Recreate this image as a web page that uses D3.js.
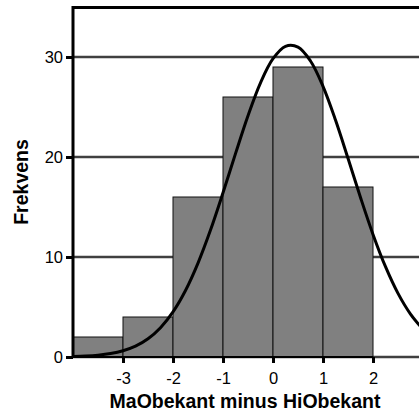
<!DOCTYPE html>
<html lang="en">
<head>
<meta charset="UTF-8">
<title>Frekvens</title>
<style>
  body { margin: 0; background: #fff; }
  svg { display: block; font-family: "Liberation Sans", Arial, sans-serif; }
</style>
</head>
<body>
<div id="chart"></div>
<script src="https://cdn.jsdelivr.net/npm/d3@7"></script>
<script>
// histogram bins (lower edge, upper edge) and counts
const binStarts = [-4, -3, -2, -1, 0, 1];
const binEnds = [-3, -2, -1, 0, 1, 2];
const counts = [2, 4, 16, 26, 29, 17];

// fitted normal curve
const curveX = [-4, -3.75, -3.5, -3.25, -3, -2.75, -2.5, -2.25, -2, -1.75, -1.5, -1.25, -1, -0.75, -0.5, -0.25,
                0, 0.25, 0.5, 0.75, 1, 1.25, 1.5, 1.75, 2, 2.25, 2.5, 2.75, 3];
const curveY = [0.04, 0.09, 0.18, 0.34, 0.62, 1.08, 1.82, 2.93, 4.51, 6.65, 9.39, 12.69, 16.42, 20.34, 24.13, 27.42,
                29.83, 31.07, 30.99, 29.6, 27.07, 23.7, 19.87, 15.95, 12.26, 9.03, 6.36, 4.29, 2.77];

const xTicks = [-3, -2, -1, 0, 1, 2];
const yTicks = [0, 10, 20, 30];

const W = 419, H = 414;
const plotLeft = 73, plotTop = 7.5, plotBottom = 357;

const svg = d3.select("#chart").append("svg")
    .attr("width", W).attr("height", H);

const x = d3.scaleLinear().domain([-4, 3]).range([plotLeft, plotLeft + 350]);
const y = d3.scaleLinear().domain([0, 35]).range([plotBottom, plotBottom - 350]);

svg.append("defs").append("clipPath").attr("id", "plot")
    .append("rect").attr("x", plotLeft).attr("y", 0).attr("width", W - plotLeft).attr("height", plotBottom + 2);

// gridlines
svg.selectAll(".grid").data(yTicks).enter().append("line")
    .attr("class", "grid")
    .attr("x1", plotLeft).attr("x2", W)
    .attr("y1", d => y(d)).attr("y2", d => y(d))
    .attr("stroke", "#404040").attr("stroke-width", 2.5);

// bars
svg.selectAll(".bar").data(counts).enter().append("rect")
    .attr("class", "bar")
    .attr("x", (d, i) => x(binStarts[i]))
    .attr("width", (d, i) => x(binEnds[i]) - x(binStarts[i]))
    .attr("y", d => y(d))
    .attr("height", d => y(0) - y(d))
    .attr("fill", "#808080")
    .attr("stroke", "#111").attr("stroke-width", 1);

// normal curve
const line = d3.line()
    .x((d, i) => x(curveX[i]))
    .y(d => y(d))
    .curve(d3.curveCatmullRom);
svg.append("path")
    .datum(curveY)
    .attr("d", line)
    .attr("clip-path", "url(#plot)")
    .attr("fill", "none")
    .attr("stroke", "#000")
    .attr("stroke-width", 3);

// frame: left axis and top border
svg.append("line").attr("x1", plotLeft).attr("x2", plotLeft).attr("y1", plotTop - 1.5).attr("y2", plotBottom + 1)
    .attr("stroke", "#000").attr("stroke-width", 3);
svg.append("line").attr("x1", plotLeft).attr("x2", W).attr("y1", plotTop).attr("y2", plotTop)
    .attr("stroke", "#000").attr("stroke-width", 3);
svg.append("line").attr("x1", plotLeft).attr("x2", x(2)).attr("y1", plotBottom).attr("y2", plotBottom)
    .attr("stroke", "#000").attr("stroke-width", 2);

// plain hyphen minus, like the original
const fmt = d => String(d);

// y axis ticks
const yAxis = svg.append("g").attr("transform", `translate(${plotLeft},0)`)
    .call(d3.axisLeft(y).tickValues(yTicks).tickSize(7).tickPadding(3).tickFormat(fmt));
yAxis.select(".domain").remove();
yAxis.selectAll(".tick line").attr("stroke", "#000").attr("stroke-width", 3);
yAxis.selectAll(".tick text").attr("font-size", 16.5).attr("fill", "#000")
    .attr("font-family", "'Liberation Sans', Arial, sans-serif");

// x axis ticks
const xAxis = svg.append("g").attr("transform", `translate(0,${plotBottom})`)
    .call(d3.axisBottom(x).tickValues(xTicks).tickSize(6).tickPadding(9).tickFormat(fmt));
xAxis.select(".domain").remove();
xAxis.selectAll(".tick line").attr("stroke", "#000").attr("stroke-width", 3);
xAxis.selectAll(".tick text").attr("font-size", 16.5).attr("fill", "#000")
    .attr("font-family", "'Liberation Sans', Arial, sans-serif");

// axis titles
svg.append("text")
    .attr("x", 245).attr("y", 408)
    .attr("text-anchor", "middle")
    .attr("font-size", 19.5).attr("font-weight", "bold")
    .text("MaObekant minus HiObekant");

svg.append("text")
    .attr("transform", "translate(28,182) rotate(-90)")
    .attr("text-anchor", "middle")
    .attr("font-size", 19.5).attr("font-weight", "bold")
    .text("Frekvens");
</script>
</body>
</html>
